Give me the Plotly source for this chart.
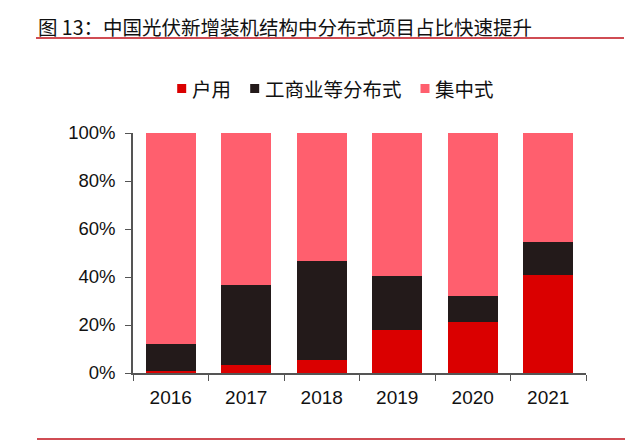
import plotly.graph_objects as go

years = ["2016", "2017", "2018", "2019", "2020", "2021"]
household = [0.8, 3.2, 5.6, 17.8, 21.2, 40.8]
commercial = [11.2, 33.3, 41.2, 22.6, 10.8, 13.9]
centralized = [round(100 - a - b, 1) for a, b in zip(household, commercial)]
series_names = ["户用", "工商业等分布式", "集中式"]
colors = ["#DA0000", "#231A1A", "#FF5F6E"]
yticks = [0, 20, 40, 60, 80, 100]
title_text = "图 13：中国光伏新增装机结构中分布式项目占比快速提升"

FONT = "Liberation Sans, Arial, Noto Sans CJK SC, sans-serif"
CJK = "Noto Sans CJK SC, sans-serif"

# plot area in reference pixels: x 133..586, y 133..373
def px(x):
    return (x - 133) / 453

def py(y):
    return (373 - y) / 240

fig = go.Figure()
for name, vals, col in zip(series_names, [household, commercial, centralized], colors):
    fig.add_trace(go.Bar(x=years, y=vals, name=name, showlegend=False,
                         marker=dict(color=col, line=dict(width=0))))

# manual legend (square swatch + label), placed like the reference
legend_sq_x = [181.7, 254.7, 425.0]
legend_txt_x = [190.0, 262.5, 433.0]
legend_y = 88.5
shapes = [
    dict(type="line", xref="paper", yref="paper", x0=px(36), x1=px(624),
         y0=py(38), y1=py(38), line=dict(color="#C0101A", width=1.5)),
    dict(type="line", xref="paper", yref="paper", x0=px(37), x1=px(625),
         y0=py(439), y1=py(439), line=dict(color="#C0101A", width=1.5)),
]
annotations = [dict(text=title_text, xref="paper", yref="paper",
                    x=px(36), y=py(26), xanchor="left", yanchor="middle", showarrow=False,
                    font=dict(size=19.5, family=CJK, color="#111111"))]
for name, col, sx, tx in zip(series_names, colors, legend_sq_x, legend_txt_x):
    shapes.append(dict(type="rect", xref="paper", yref="paper",
                       x0=px(sx - 4.5), x1=px(sx + 4.5), y0=py(legend_y + 4.5), y1=py(legend_y - 4.5),
                       fillcolor=col, line=dict(width=0)))
    annotations.append(dict(text=name, xref="paper", yref="paper", x=px(tx), y=py(legend_y),
                            xanchor="left", yanchor="middle", showarrow=False,
                            font=dict(size=19.5, family=CJK, color="#111111")))

fig.update_layout(
    width=632, height=436,
    barmode="stack", bargap=0.34,
    paper_bgcolor="white", plot_bgcolor="white",
    margin=dict(l=125, r=54, t=125, b=71, autoexpand=False),
    font=dict(family=FONT, color="#111111", size=16),
    showlegend=False,
    xaxis=dict(showline=True, linecolor="#555555", linewidth=1.5, ticks="outside",
               tickson="boundaries", ticklen=6, tickcolor="#555555",
               tickfont=dict(size=19), showgrid=False, automargin=False,
               ticklabelstandoff=6),
    yaxis=dict(range=[0, 100], tickvals=yticks, ticktext=[f"{v}%" for v in yticks],
               showline=True, linecolor="#555555", linewidth=1.5, ticks="outside",
               ticklen=6, tickcolor="#555555", tickfont=dict(size=18.5), showgrid=False,
               zeroline=False, automargin=False, ticklabelstandoff=6),
    annotations=annotations,
    shapes=shapes,
)

fig.write_html("out.html")
